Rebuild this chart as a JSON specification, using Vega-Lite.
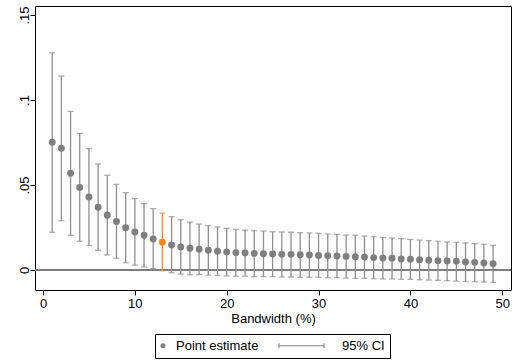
{
  "$schema": "https://vega.github.io/schema/vega-lite/v6.json",
  "width": 476,
  "height": 284,
  "autosize": {"type": "none"},
  "padding": {"left": 35, "top": 6, "right": 2, "bottom": 70},
  "background": "white",
  "config": {
    "font": "Liberation Sans",
    "view": {"stroke": "black", "strokeWidth": 1},
    "axis": {
      "domain": false,
      "grid": false,
      "tickColor": "black",
      "tickSize": 5,
      "tickWidth": 1,
      "labelColor": "black",
      "labelFont": "Liberation Sans",
      "labelFontSize": 13,
      "titleFont": "Liberation Sans",
      "titleFontSize": 13,
      "titleFontWeight": "normal",
      "titleColor": "black"
    },
    "legend": {"strokeColor": "black", "fillColor": "white", "strokeWidth": 1}
  },
  "data": {
    "values": [
      {"x": 1, "est": 0.0751, "lo": 0.0222, "hi": 0.1278},
      {"x": 2, "est": 0.0716, "lo": 0.0290, "hi": 0.1141},
      {"x": 3, "est": 0.0569, "lo": 0.0204, "hi": 0.0933},
      {"x": 4, "est": 0.0486, "lo": 0.0169, "hi": 0.0804},
      {"x": 5, "est": 0.0429, "lo": 0.0145, "hi": 0.0714},
      {"x": 6, "est": 0.0369, "lo": 0.0116, "hi": 0.0624},
      {"x": 7, "est": 0.0322, "lo": 0.0088, "hi": 0.0557},
      {"x": 8, "est": 0.0286, "lo": 0.0069, "hi": 0.0504},
      {"x": 9, "est": 0.0249, "lo": 0.0043, "hi": 0.0455},
      {"x": 10, "est": 0.0224, "lo": 0.0029, "hi": 0.0420},
      {"x": 11, "est": 0.0204, "lo": 0.0018, "hi": 0.0390},
      {"x": 12, "est": 0.0182, "lo": 0.0008, "hi": 0.0361},
      {"x": 13, "est": 0.0163, "lo": -0.0004, "hi": 0.0335},
      {"x": 14, "est": 0.0147, "lo": -0.0016, "hi": 0.0314},
      {"x": 15, "est": 0.0135, "lo": -0.0024, "hi": 0.0296},
      {"x": 16, "est": 0.0128, "lo": -0.0028, "hi": 0.0282},
      {"x": 17, "est": 0.0122, "lo": -0.0028, "hi": 0.0270},
      {"x": 18, "est": 0.0116, "lo": -0.0030, "hi": 0.0261},
      {"x": 19, "est": 0.0110, "lo": -0.0032, "hi": 0.0253},
      {"x": 20, "est": 0.0106, "lo": -0.0035, "hi": 0.0245},
      {"x": 21, "est": 0.0102, "lo": -0.0037, "hi": 0.0239},
      {"x": 22, "est": 0.0100, "lo": -0.0037, "hi": 0.0235},
      {"x": 23, "est": 0.0098, "lo": -0.0039, "hi": 0.0231},
      {"x": 24, "est": 0.0096, "lo": -0.0039, "hi": 0.0229},
      {"x": 25, "est": 0.0094, "lo": -0.0039, "hi": 0.0225},
      {"x": 26, "est": 0.0092, "lo": -0.0041, "hi": 0.0224},
      {"x": 27, "est": 0.0092, "lo": -0.0041, "hi": 0.0222},
      {"x": 28, "est": 0.0090, "lo": -0.0043, "hi": 0.0220},
      {"x": 29, "est": 0.0088, "lo": -0.0043, "hi": 0.0218},
      {"x": 30, "est": 0.0086, "lo": -0.0043, "hi": 0.0216},
      {"x": 31, "est": 0.0084, "lo": -0.0045, "hi": 0.0212},
      {"x": 32, "est": 0.0082, "lo": -0.0045, "hi": 0.0210},
      {"x": 33, "est": 0.0080, "lo": -0.0047, "hi": 0.0206},
      {"x": 34, "est": 0.0078, "lo": -0.0049, "hi": 0.0204},
      {"x": 35, "est": 0.0076, "lo": -0.0049, "hi": 0.0200},
      {"x": 36, "est": 0.0073, "lo": -0.0051, "hi": 0.0196},
      {"x": 37, "est": 0.0071, "lo": -0.0053, "hi": 0.0192},
      {"x": 38, "est": 0.0069, "lo": -0.0053, "hi": 0.0188},
      {"x": 39, "est": 0.0065, "lo": -0.0055, "hi": 0.0184},
      {"x": 40, "est": 0.0063, "lo": -0.0055, "hi": 0.0180},
      {"x": 41, "est": 0.0061, "lo": -0.0057, "hi": 0.0176},
      {"x": 42, "est": 0.0057, "lo": -0.0059, "hi": 0.0173},
      {"x": 43, "est": 0.0055, "lo": -0.0061, "hi": 0.0169},
      {"x": 44, "est": 0.0053, "lo": -0.0063, "hi": 0.0165},
      {"x": 45, "est": 0.0051, "lo": -0.0065, "hi": 0.0163},
      {"x": 46, "est": 0.0047, "lo": -0.0067, "hi": 0.0159},
      {"x": 47, "est": 0.0045, "lo": -0.0069, "hi": 0.0155},
      {"x": 48, "est": 0.0041, "lo": -0.0071, "hi": 0.0151},
      {"x": 49, "est": 0.0037, "lo": -0.0073, "hi": 0.0145}
    ]
  },
  "encoding": {
    "x": {
      "field": "x",
      "type": "quantitative",
      "scale": {"domain": [-0.87, 50.95], "nice": false, "zero": false},
      "axis": {"values": [0, 10, 20, 30, 40, 50], "title": "Bandwidth (%)", "labelPadding": 2, "titlePadding": 2}
    }
  },
  "layer": [
    {
      "mark": {"type": "rule", "color": "#7f7f7f", "strokeWidth": 1},
      "encoding": {"x": null, "y": {"datum": 0, "type": "quantitative"}}
    },
    {
      "mark": {"type": "rule", "strokeWidth": 1.3},
      "encoding": {
        "y": {
          "field": "lo",
          "type": "quantitative",
          "scale": {"domain": [-0.01176, 0.1553], "nice": false, "zero": false},
          "axis": {
            "values": [0, 0.05, 0.1, 0.15],
            "title": null,
            "labelAngle": -90,
            "labelAlign": "center",
            "labelBaseline": "alphabetic",
            "labelPadding": 2,
            "labelExpr": "datum.value == 0 ? '0' : replace(format(datum.value, '.2~f'), '0.', '.')"
          }
        },
        "y2": {"field": "hi"},
        "color": {"condition": {"test": "datum.x === 13", "value": "#f28a1e"}, "value": "#8f8f8f"}
      }
    },
    {
      "mark": {"type": "tick", "orient": "horizontal", "size": 6, "thickness": 1.3},
      "encoding": {
        "y": {"field": "lo", "type": "quantitative"},
        "color": {"condition": {"test": "datum.x === 13", "value": "#f28a1e"}, "value": "#8f8f8f"}
      }
    },
    {
      "mark": {"type": "tick", "orient": "horizontal", "size": 6, "thickness": 1.3},
      "encoding": {
        "y": {"field": "hi", "type": "quantitative"},
        "color": {"condition": {"test": "datum.x === 13", "value": "#f28a1e"}, "value": "#8f8f8f"}
      }
    },
    {
      "mark": {"type": "circle", "size": 48, "opacity": 1},
      "encoding": {
        "y": {"field": "est", "type": "quantitative"},
        "color": {
          "condition": {"test": "datum.x === 13", "value": "#f28a1e"},
          "datum": "Point estimate",
          "type": "nominal",
          "scale": {"domain": ["Point estimate", "95% CI"], "range": ["#7f7f7f", "#8f8f8f"]},
          "legend": {
            "orient": "none",
            "legendX": 120,
            "legendY": 328,
            "direction": "horizontal",
            "title": null,
            "strokeColor": "black",
            "fillColor": "white",
            "padding": 5,
            "columnPadding": 18,
            "zindex": 1,
            "labelFont": "Liberation Sans",
            "labelFontSize": 13,
            "labelColor": "black",
            "symbolType": "circle",
            "symbolSize": 25,
            "encoding": {
              "legend": {
                "stroke": {"value": "black"},
                "strokeWidth": {"value": 1}
              },
              "symbols": {
                "shape": {"value": {"expr": "datum.value === '95% CI' ? 'M-1,-0.11V0.11M-1,0H1M1,-0.11V0.11' : 'circle'"}},
                "size": {"value": {"expr": "datum.value === '95% CI' ? 2025 : 25"}},
                "x": {"value": {"expr": "datum.value === '95% CI' ? 22.5 : 3"}},
                "stroke": {"value": {"expr": "datum.value === '95% CI' ? '#7f7f7f' : 'transparent'"}},
                "strokeWidth": {"value": 1},
                "opacity": {"value": 1}
              },
              "labels": {
                "x": {"value": {"expr": "datum.value === '95% CI' ? 63 : 16"}}
              }
            }
          }
        }
      }
    }
  ]
}
